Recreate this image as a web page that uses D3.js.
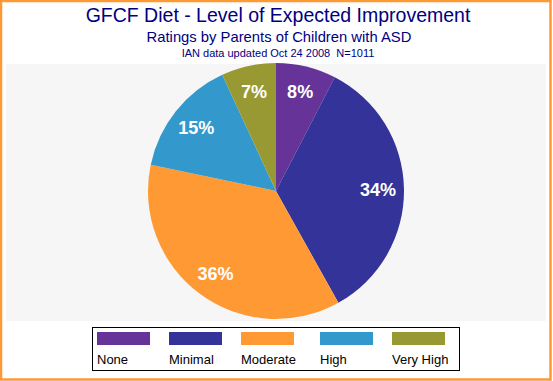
<!DOCTYPE html>
<html>
<head>
    <title>GFCF Diet pie</title>
    <script src="https://cdn.jsdelivr.net/npm/d3@7"></script>
</head>

<style>
    body{
        margin:0;
        background-color: #FFFFFF;
        font-family: Arial, 'Liberation Sans', sans-serif;
    }
    text { white-space: pre; }
</style>

<body>
<div id="chart"></div>
</body>

<script>
    // data (clockwise from 12 o'clock)
    var categories = ["None", "Minimal", "Moderate", "High", "Very High"];
    var values = [7.6, 34.3, 36.4, 14.8, 6.9];
    var colors = ["#663399", "#333399", "#FF9933", "#3399CC", "#999933"];

    var titleText = "GFCF Diet - Level of Expected Improvement";
    var subtitleText = "Ratings by Parents of Children with ASD";
    var noteText = "IAN data updated Oct 24 2008  N=1011";

    var width = 553, height = 381;
    var cx = 276, cy = 191, radius = 128;

    var svg = d3.select("#chart").append("svg")
        .attr("width", width)
        .attr("height", height);

    // plot area background
    svg.append("rect")
        .attr("x", 6).attr("y", 64)
        .attr("width", 540).attr("height", 257)
        .style("fill", "#F6F6F6");

    // outer orange frame
    svg.append("rect")
        .attr("x", 1).attr("y", 1)
        .attr("width", 549.5).attr("height", 378.5)
        .style("fill", "none")
        .style("stroke", "#FF9933")
        .style("stroke-width", 2.5);

    // titles
    svg.append("text")
        .attr("x", 278).attr("y", 22)
        .attr("text-anchor", "middle")
        .style("font-size", "19.5px")
        .style("fill", "#000080")
        .text(titleText);

    svg.append("text")
        .attr("x", 279).attr("y", 42)
        .attr("text-anchor", "middle")
        .style("font-size", "14.8px")
        .style("fill", "#000080")
        .text(subtitleText);

    svg.append("text")
        .attr("x", 278).attr("y", 57)
        .attr("text-anchor", "middle")
        .style("font-size", "11px")
        .style("fill", "#000080")
        .text(noteText);

    // pie
    var pie = d3.pie().sort(null).value(function(d) { return d; });
    var arc = d3.arc().innerRadius(0).outerRadius(radius);
    var labelArc = d3.arc().innerRadius(102).outerRadius(102);
    var total = d3.sum(values);

    var g = svg.append("g")
        .attr("transform", "translate(" + cx + "," + cy + ")");

    var slices = g.selectAll(".slice")
        .data(pie(values))
        .enter().append("g")
        .attr("class", "slice");

    slices.append("path")
        .attr("d", arc)
        .style("fill", function(d, i) { return colors[i]; });

    slices.append("text")
        .attr("transform", function(d) { return "translate(" + labelArc.centroid(d) + ")"; })
        .attr("text-anchor", "middle")
        .attr("dy", "0.36em")
        .style("font-size", "18px")
        .style("font-weight", "bold")
        .style("fill", "#FFFFFF")
        .text(function(d) { return Math.round(d.value / total * 100) + "%"; });

    // legend (swatch positions as in the picture, not evenly spaced)
    var legendPos = [97, 169, 241, 320, 392];

    svg.append("rect")
        .attr("x", 92.5).attr("y", 327.5)
        .attr("width", 367).attr("height", 43)
        .style("fill", "#FFFFFF")
        .style("stroke", "#000000")
        .style("stroke-width", 1);

    var legend = svg.selectAll(".legend")
        .data(categories)
        .enter().append("g")
        .attr("class", "legend")
        .attr("transform", function(d, i) { return "translate(" + legendPos[i] + ",0)"; });

    legend.append("rect")
        .attr("x", 0).attr("y", 332)
        .attr("width", 53).attr("height", 13)
        .style("fill", function(d, i) { return colors[i]; });

    legend.append("text")
        .attr("x", 0).attr("y", 364)
        .style("font-size", "13px")
        .style("fill", "#000000")
        .text(function(d) { return d; });
</script>
</html>
